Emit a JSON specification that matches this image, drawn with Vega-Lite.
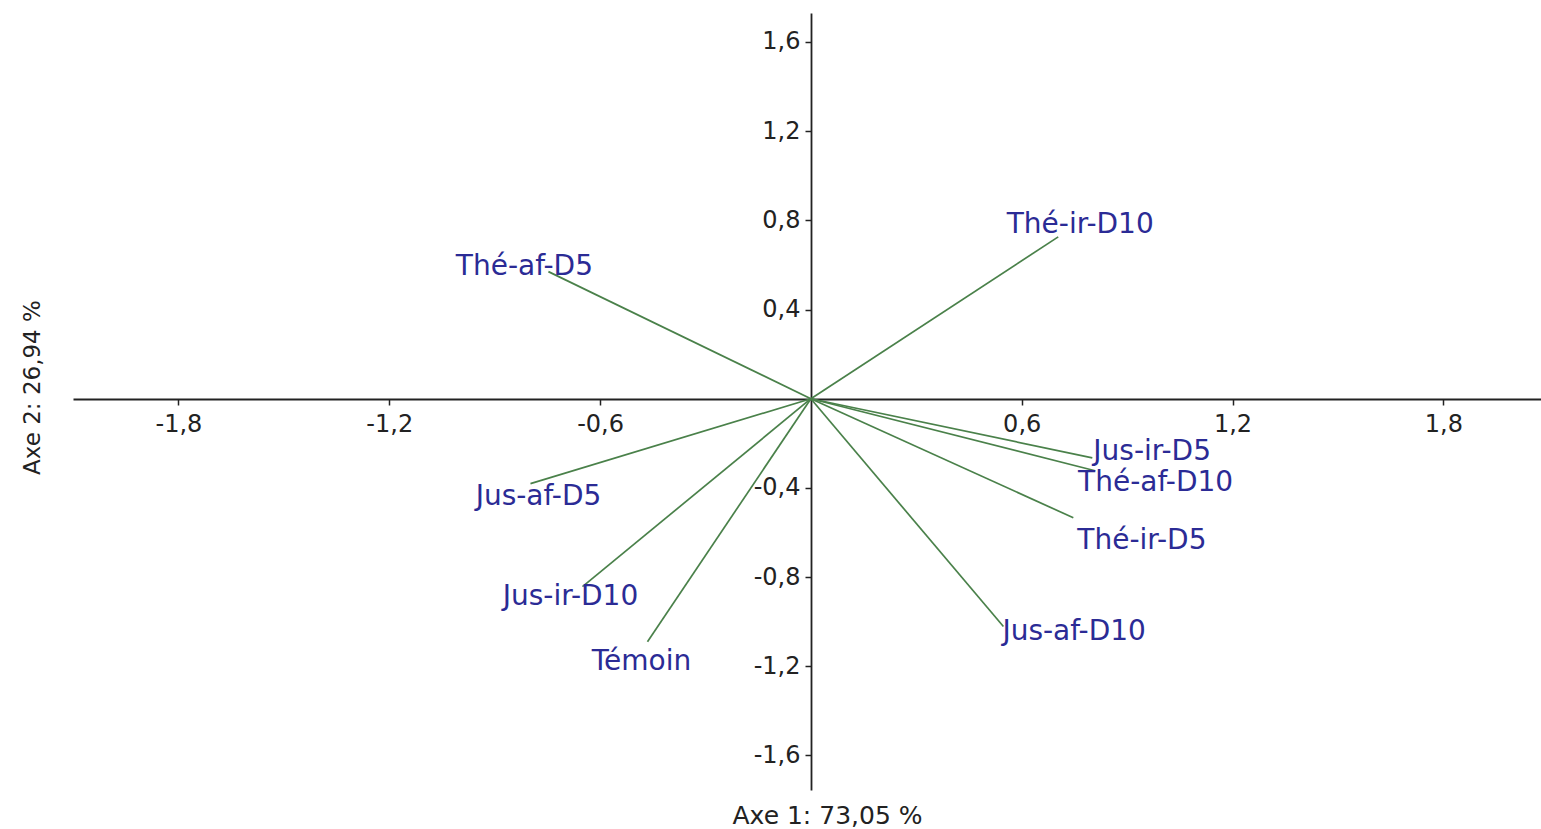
{
  "$schema": "https://vega.github.io/schema/vega-lite/v6.json",
  "width": 1468,
  "height": 777,
  "autosize": {"type": "none"},
  "padding": {"left": 73, "top": 13, "right": 0, "bottom": 39},
  "background": "white",
  "config": {
    "view": {"stroke": null},
    "font": "DejaVu Sans"
  },
  "data": {
    "values": [
      {"name": "Thé-af-D5", "x": -0.747, "y": 0.570},
      {"name": "Thé-ir-D10", "x": 0.704, "y": 0.726},
      {"name": "Jus-ir-D5", "x": 0.801, "y": -0.265},
      {"name": "Thé-af-D10", "x": 0.809, "y": -0.323},
      {"name": "Thé-ir-D5", "x": 0.747, "y": -0.534},
      {"name": "Jus-af-D10", "x": 0.548, "y": -1.022},
      {"name": "Jus-af-D5", "x": -0.798, "y": -0.381},
      {"name": "Jus-ir-D10", "x": -0.650, "y": -0.843},
      {"name": "Témoin", "x": -0.465, "y": -1.090}
    ]
  },
  "encoding": {
    "x": {
      "field": "x", "type": "quantitative",
      "scale": {"domain": [-2.1, 2.078], "nice": false, "zero": false},
      "axis": {
        "orient": "bottom", "offset": -391,
        "values": [-1.8, -1.2, -0.6, 0.6, 1.2, 1.8],
        "labelExpr": "(datum.value < 0 ? '-' : '') + replace(format(abs(datum.value), '.1f'), '.', ',')",
        "grid": false, "domainColor": "#222", "domainWidth": 1.8,
        "tickColor": "#222", "tickWidth": 1.5, "tickSize": 6,
        "labelFont": "DejaVu Sans", "labelFontSize": 24, "labelColor": "#222", "labelPadding": 7,
        "title": "Axe 1: 73,05 %", "titleFont": "DejaVu Sans", "titleFontSize": 25, "titleFontWeight": "normal",
        "titleColor": "#222", "titleX": 754, "titleY": 416, "titleBaseline": "middle", "titleAlign": "center", "titleAnchor": null
      }
    },
    "y": {
      "field": "y", "type": "quantitative",
      "scale": {"domain": [-1.755, 1.73], "nice": false, "zero": false},
      "axis": {
        "orient": "left", "offset": -738,
        "values": [-1.6, -1.2, -0.8, -0.4, 0.4, 0.8, 1.2, 1.6],
        "labelExpr": "(datum.value < 0 ? '-' : '') + replace(format(abs(datum.value), '.1f'), '.', ',')",
        "grid": false, "domainColor": "#222", "domainWidth": 1.8,
        "tickColor": "#222", "tickWidth": 1.5, "tickSize": 6,
        "labelFont": "DejaVu Sans", "labelFontSize": 24, "labelColor": "#222", "labelPadding": 5,
        "title": "Axe 2: 26,94 %", "titleFont": "DejaVu Sans", "titleFontSize": 23, "titleFontWeight": "normal",
        "titleColor": "#222", "titleX": -779, "titleY": 374, "titleAngle": -90, "titleBaseline": "middle", "titleAlign": "center", "titleAnchor": null
      }
    }
  },
  "layer": [
    {
      "mark": {"type": "rule", "color": "#4a814a", "strokeWidth": 1.7},
      "encoding": {"x2": {"datum": 0}, "y2": {"datum": 0}}
    },
    {
      "transform": [{"filter": {"field": "name", "equal": "Thé-af-D5"}}],
      "mark": {"type": "text", "align": "center", "baseline": "middle", "dx": -24, "dy": -5, "fontSize": 28, "color": "#2b2b95"},
      "encoding": {"text": {"field": "name"}}
    },
    {
      "transform": [{"filter": {"field": "name", "equal": "Thé-ir-D10"}}],
      "mark": {"type": "text", "align": "center", "baseline": "middle", "dx": 22, "dy": -12, "fontSize": 28, "color": "#2b2b95"},
      "encoding": {"text": {"field": "name"}}
    },
    {
      "transform": [{"filter": {"field": "name", "equal": "Jus-ir-D5"}}],
      "mark": {"type": "text", "align": "left", "baseline": "middle", "dx": 1, "dy": -6, "fontSize": 28, "color": "#2b2b95"},
      "encoding": {"text": {"field": "name"}}
    },
    {
      "transform": [{"filter": {"field": "name", "equal": "Thé-af-D10"}}],
      "mark": {"type": "text", "align": "left", "baseline": "middle", "dx": -17, "dy": 12, "fontSize": 28, "color": "#2b2b95"},
      "encoding": {"text": {"field": "name"}}
    },
    {
      "transform": [{"filter": {"field": "name", "equal": "Thé-ir-D5"}}],
      "mark": {"type": "text", "align": "left", "baseline": "middle", "dx": 4, "dy": 23, "fontSize": 28, "color": "#2b2b95"},
      "encoding": {"text": {"field": "name"}}
    },
    {
      "transform": [{"filter": {"field": "name", "equal": "Jus-af-D10"}}],
      "mark": {"type": "text", "align": "left", "baseline": "middle", "dx": -1, "dy": 5, "fontSize": 28, "color": "#2b2b95"},
      "encoding": {"text": {"field": "name"}}
    },
    {
      "transform": [{"filter": {"field": "name", "equal": "Jus-af-D5"}}],
      "mark": {"type": "text", "align": "center", "baseline": "middle", "dx": 8, "dy": 13, "fontSize": 28, "color": "#2b2b95"},
      "encoding": {"text": {"field": "name"}}
    },
    {
      "transform": [{"filter": {"field": "name", "equal": "Jus-ir-D10"}}],
      "mark": {"type": "text", "align": "center", "baseline": "middle", "dx": -12, "dy": 10, "fontSize": 28, "color": "#2b2b95"},
      "encoding": {"text": {"field": "name"}}
    },
    {
      "transform": [{"filter": {"field": "name", "equal": "Témoin"}}],
      "mark": {"type": "text", "align": "center", "baseline": "middle", "dx": -6, "dy": 20, "fontSize": 28, "color": "#2b2b95"},
      "encoding": {"text": {"field": "name"}}
    }
  ]
}
